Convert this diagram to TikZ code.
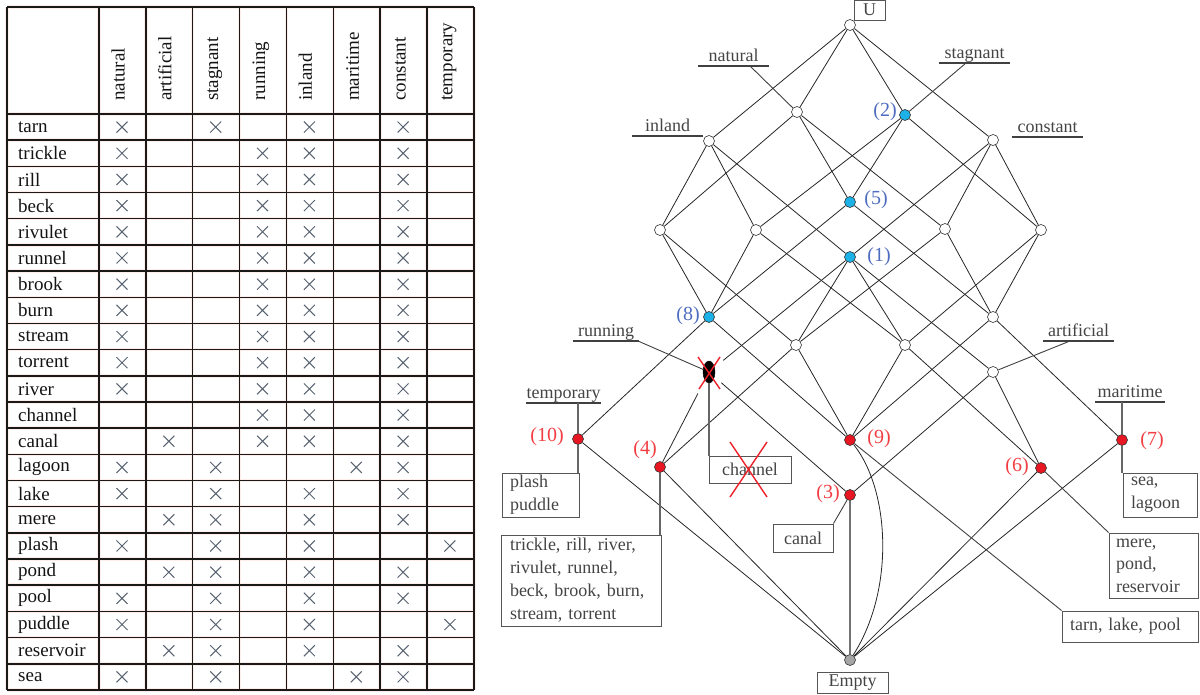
\documentclass[tikz,border=0pt]{standalone}
\usepackage{fontspec}
\setmainfont{Liberation Serif}
\usetikzlibrary{shapes.geometric}
\definecolor{nodered}{RGB}{232,22,34}
\definecolor{nodecyan}{RGB}{28,178,232}
\definecolor{numblue}{RGB}{78,108,192}
\definecolor{numred}{RGB}{242,62,66}
\definecolor{txtgray}{RGB}{68,68,68}
\definecolor{boxgray}{RGB}{85,85,85}
\definecolor{crossc}{RGB}{88,98,112}
\definecolor{gridpink}{RGB}{253,238,234}
\definecolor{xred}{RGB}{236,32,40}
\newcommand{\dfont}{\fontsize{18}{23}\selectfont}
\newcommand{\nfont}{\fontsize{20}{24}\selectfont}
\newcommand{\tfont}{\fontsize{19}{22}\selectfont}
\newcommand{\tabcross}[2]{\draw[crossl] ({122+46.85*(#2-1)-5.5},{114+26.18*(#1-0.5)-5.5}) -- ++(11,11) ({122+46.85*(#2-1)+5.5},{114+26.18*(#1-0.5)-5.5}) -- ++(-11,11);}
\tikzset{
  gridu/.style={draw=gridpink, line width=3.5pt},
  gridl/.style={draw=black!90, line width=1.5pt},
  crossl/.style={draw=crossc, line width=1pt},
  rowname/.style={font=\tfont, text=black!92, anchor=west, inner sep=0pt},
  hdname/.style={font=\tfont, text=black!92, inner sep=0pt, text height=0.7em, text depth=0.2em},
  wn/.style={circle, draw=black!80, fill=white, line width=0.6pt, inner sep=0pt, minimum size=11pt},
  bn/.style={wn, fill=nodecyan},
  rn/.style={wn, fill=nodered},
  gn/.style={wn, fill=black!35},
  runn/.style={ellipse, fill=black, draw=black, inner sep=0pt, minimum width=12pt, minimum height=22pt},
  ln/.style={draw=black!85, line width=0.8pt},
  lead/.style={draw=black!75, line width=0.9pt},
  vlead/.style={draw=black!60, line width=1.2pt},
  obox/.style={draw=boxgray, line width=0.9pt, font=\dfont, text=txtgray, align=left, inner ysep=2pt},
  cbox/.style={draw=boxgray, line width=0.9pt, font=\dfont, text=txtgray, align=center, inner sep=1pt},
  attr/.style={font=\dfont, text=txtgray, inner xsep=0pt, inner ysep=4pt, text depth=0pt, anchor=south, minimum width=#1},
  ul/.style={draw=black!75, line width=1.1pt},
  numb/.style={font=\nfont, inner sep=0pt},
  redx/.style={draw=xred, line width=1.4pt}
}
\begin{document}
\begin{tikzpicture}[x=1pt,y=-1pt]
\useasboundingbox (0,0) rectangle (1200,695);
% ---------------- table ----------------
\foreach \k in {0,...,8} {\draw[gridu] ({99+46.85*\k},7) -- ({99+46.85*\k},690);}
\draw[gridu] (7,7) -- (7,690);
\foreach \r in {0,...,22} {\draw[gridu] (7,{114+26.18*\r}) -- (473.8,{114+26.18*\r});}
\draw[gridu] (7,7) -- (473.8,7);
\foreach \k in {0,...,8} {\draw[gridl] ({99+46.85*\k},7) -- ({99+46.85*\k},690);}
\draw[gridl] (7,7) -- (7,690);
\foreach \r in {0,...,22} {\draw[gridl] (7,{114+26.18*\r}) -- (473.8,{114+26.18*\r});}
\draw[gridl] (7,7) -- (473.8,7);
\foreach \nm [count=\r] in {tarn,trickle,rill,beck,rivulet,runnel,brook,burn,stream,torrent,river,channel,canal,lagoon,lake,mere,plash,pond,pool,puddle,reservoir,sea}
  {\node[rowname] (row\r) at (18,{114+26.18*(\r-0.5)}) {\nm};}
\foreach \hd [count=\c] in {natural,artificial,stagnant,running,inland,maritime,constant,temporary}
  {\node[hdname, rotate=90, anchor=west] (hd\c) at ({122+46.85*(\c-1)},101) {\hd};}
\foreach \r in {1,15,19} {\foreach \c in {1,3,5,7} {\tabcross{\r}{\c}}}
\foreach \r in {2,...,11} {\foreach \c in {1,4,5,7} {\tabcross{\r}{\c}}}
\foreach \c in {4,5,7} {\tabcross{12}{\c}}
\foreach \c in {2,4,5,7} {\tabcross{13}{\c}}
\foreach \r in {14,22} {\foreach \c in {1,3,6,7} {\tabcross{\r}{\c}}}
\foreach \r in {16,18,21} {\foreach \c in {2,3,5,7} {\tabcross{\r}{\c}}}
\foreach \r in {17,20} {\foreach \c in {1,3,5,8} {\tabcross{\r}{\c}}}
% ---------------- lattice nodes ----------------
\node[wn] (U) at (850,25) {};
\node[wn] (I) at (709,141) {};
\node[wn] (N) at (797,112) {};
\node[bn] (S) at (905,115) {};
\node[wn] (C) at (993,140) {};
\node[wn] (IN) at (660,230) {};
\node[wn] (IS) at (756,230) {};
\node[bn] (NS) at (850,202) {};
\node[wn] (NC) at (945,229) {};
\node[wn] (SC) at (1041,230) {};
\node[bn] (IC) at (850,257) {};
\node[bn] (INS) at (709,317) {};
\node[wn] (NSC) at (993,317) {};
\node[wn] (INC) at (796,345) {};
\node[wn] (ISC) at (905,345) {};
\node[rn] (INSC) at (850,440) {};
\node[runn] (R) at (709,372) {};
\node[wn] (A) at (993,372) {};
\node[rn] (T) at (578,439) {};
\node[rn] (M) at (1122,440) {};
\node[rn] (O4) at (660,467) {};
\node[rn] (O6) at (1041,468) {};
\node[rn] (O3) at (850,495) {};
\node[gn] (E) at (850,660) {};
% ---------------- edges ----------------
\draw[ln] (U) -- (I);   \draw[ln] (U) -- (N);   \draw[ln] (U) -- (S);   \draw[ln] (U) -- (C);
\draw[ln] (I) -- (IN);  \draw[ln] (I) -- (IS);  \draw[ln] (I) -- (IC);
\draw[ln] (N) -- (IN);  \draw[ln] (N) -- (NS);  \draw[ln] (N) -- (NC);
\draw[ln] (S) -- (IS);  \draw[ln] (S) -- (NS);  \draw[ln] (S) -- (SC);
\draw[ln] (C) -- (IC);  \draw[ln] (C) -- (NC);  \draw[ln] (C) -- (SC);
\draw[ln] (IN) -- (INS); \draw[ln] (IN) -- (INC);
\draw[ln] (IS) -- (INS); \draw[ln] (IS) -- (ISC);
\draw[ln] (NS) -- (INS); \draw[ln] (NS) -- (NSC);
\draw[ln] (NC) -- (INC); \draw[ln] (NC) -- (NSC);
\draw[ln] (SC) -- (ISC); \draw[ln] (SC) -- (NSC);
\draw[ln] (IC) -- (INC); \draw[ln] (IC) -- (ISC);
\draw[ln] (INS) -- (INSC); \draw[ln] (NSC) -- (INSC); \draw[ln] (INC) -- (INSC); \draw[ln] (ISC) -- (INSC);
\draw[ln] (INS) -- (T); \draw[ln] (NSC) -- (M); \draw[ln] (INC) -- (O4); \draw[ln] (ISC) -- (O6);
\draw[ln, shorten >=11pt] (IC) -- (R); \draw[ln] (IC) -- (A);
\draw[ln, shorten <=15pt] (R) -- (O4); \draw[ln, shorten <=9pt] (R) -- (O3);
\draw[ln] (A) -- (O3); \draw[ln] (A) -- (O6);
\draw[ln] (T) -- (E); \draw[ln] (O4) -- (E); \draw[ln] (O6) -- (E); \draw[ln] (M) -- (E);
\draw[draw=black!55, line width=1.4pt] (O3) -- (E);
\draw[ln] (INSC) .. controls (890,490) and (895,590) .. (E);
% ---------------- attribute labels ----------------
\node[attr=71pt] (lnat) at (733.5,66) {natural};
\node[attr=71pt] (linl) at (667.5,136) {inland};
\node[attr=71pt] (lsta) at (974.5,63) {stagnant};
\node[attr=71pt] (lcon) at (1047.5,137) {constant};
\node[attr=66pt] (lrun) at (606,341) {running};
\node[attr=73pt] (ltem) at (563.5,403) {temporary};
\node[attr=71pt] (lart) at (1078.5,341) {artificial};
\node[attr=70pt] (lmar) at (1130,402) {maritime};
\foreach \l in {lnat,linl,lsta,lcon,lrun,ltem,lart,lmar} {\draw[ul] (\l.south west) -- (\l.south east);}
\coordinate (knat) at (750,66);
\coordinate (ksta) at (966,63);
\coordinate (krun) at (638,341);
\coordinate (ktem) at (578,403);
\coordinate (kart) at (1070,341);
\coordinate (kmar) at (1122,402);
\draw[lead] (knat) -- (N);
\draw[lead] (ksta) -- (S);
\draw[lead] (krun) -- (R);
\draw[vlead] (ktem) -- (T);
\draw[lead] (kart) -- (A);
\draw[vlead] (kmar) -- (M);
% ---------------- object boxes ----------------
\node[cbox, minimum width=31pt, minimum height=20pt] (ubox) at (869.5,10) {U};
\node[obox, text width=61pt, minimum height=44pt, inner xsep=8pt] (pbox) at (540.5,495) {plash\\puddle};
\node[obox, text width=142pt, minimum height=91pt, inner xsep=9pt] (tbox) at (581,580.5) {trickle, rill, river,\\rivulet, runnel,\\beck, brook, burn,\\stream, torrent};
\node[cbox, minimum width=82pt, minimum height=27pt] (chbox) at (750,469.5) {channel};
\node[cbox, minimum width=60pt, minimum height=28pt] (cabox) at (803,538) {canal};
\node[obox, text width=58pt, minimum height=44pt, inner xsep=8pt] (sbox) at (1160,495) {sea,\\lagoon};
\node[obox, text width=75pt, minimum height=65pt, inner xsep=7pt] (mbox) at (1153.5,565.5) {\fontsize{18}{22}\selectfont mere,\\pond,\\reservoir};
\node[obox, text width=120pt, minimum height=31pt, inner xsep=8pt] (tlbox) at (1130,626.5) {tarn, lake, pool};
\node[cbox, minimum width=71pt, minimum height=21pt] (ebox) at (852.5,682.5) {Empty};
\draw[vlead] (T) -- (T |- pbox.north);
\draw[vlead] (O4) -- (O4 |- tbox.north);
\draw[vlead] (R) -- (R |- chbox.north);
\draw[vlead] (M) -- (M |- sbox.north);
\draw[lead] (O3) -- (cabox.north east);
\draw[lead] (O6) -- (mbox.north west);
\draw[lead] (INSC) -- (tlbox.north west);
% ---------------- number labels ----------------
\node[numb, text=numblue] (n2) at (885,112) {(2)};
\node[numb, text=numblue] (n5) at (876,200) {(5)};
\node[numb, text=numblue] (n1) at (879,257) {(1)};
\node[numb, text=numblue] (n8) at (688,316) {(8)};
\node[numb, text=numred] (n10) at (547,437) {(10)};
\node[numb, text=numred] (n4) at (645,450) {(4)};
\node[numb, text=numred] (n9) at (879,439) {(9)};
\node[numb, text=numred] (n3) at (828,494) {(3)};
\node[numb, text=numred] (n6) at (1017,467) {(6)};
\node[numb, text=numred] (n7) at (1152,441) {(7)};
% ---------------- red crosses ----------------
\draw[redx] ([shift={(-11,-15)}]R.center) -- ([shift={(11,17)}]R.center);
\draw[redx] ([shift={(11,-15)}]R.center) -- ([shift={(-10,17)}]R.center);
\draw[redx] ([shift={(-20,-27.5)}]chbox.center) -- ([shift={(17,27.5)}]chbox.center);
\draw[redx] ([shift={(17,-27.5)}]chbox.center) -- ([shift={(-20,27.5)}]chbox.center);
\end{tikzpicture}
\end{document}
